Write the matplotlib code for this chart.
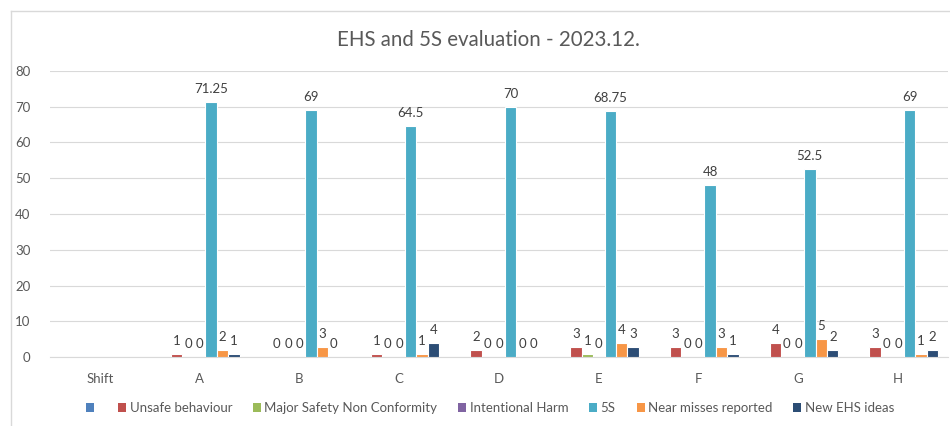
"""
EHS and 5S evaluation - 2023.12. : clustered bars per shift, Excel-like styling.
"""
import numpy as np
import matplotlib
matplotlib.use("Agg")
import matplotlib.pyplot as plt
from matplotlib.patches import Patch

nan = np.nan

categories = ["Shift", "A", "B", "C", "D", "E", "F", "G", "H"]
series_names = ["", "Unsafe behaviour", "Major Safety Non Conformity",
                "Intentional Harm", "5S", "Near misses reported", "New EHS ideas"]

blank = [nan, nan, nan, nan, nan, nan, nan, nan, nan]
unsafe = [nan, 1, 0, 1, 2, 3, 3, 4, 3]
major_nc = [nan, 0, 0, 0, 0, 1, 0, 0, 0]
harm = [nan, 0, 0, 0, 0, 0, 0, 0, 0]
five_s = [nan, 71.25, 69, 64.5, 70, 68.75, 48, 52.5, 69]
near_miss = [nan, 2, 3, 1, 0, 4, 3, 5, 1]
ehs_ideas = [nan, 1, 0, 4, 0, 3, 1, 2, 2]

all_series = [blank, unsafe, major_nc, harm, five_s, near_miss, ehs_ideas]
colors = ["#4F81BD", "#C0504D", "#9BBB59", "#8064A2", "#4BACC6", "#F79646", "#2C4D75"]

plt.rcParams['font.family'] = ['Lato', 'DejaVu Sans']

fig = plt.figure(figsize=(9.5, 4.26), dpi=100)
ax = fig.add_axes([50 / 950, 1 - 357.3 / 426, 898 / 950, (357.3 - 70.7) / 426])

# chart-area border (left + top only visible in crop)
fig.add_artist(plt.Line2D([10.5 / 950, 10.5 / 950], [0, 1 - 10.5 / 426],
                          transform=fig.transFigure, color="#D9D9D9", lw=1))
fig.add_artist(plt.Line2D([10.5 / 950, 1], [1 - 10.5 / 426, 1 - 10.5 / 426],
                          transform=fig.transFigure, color="#D9D9D9", lw=1))

x = np.arange(len(categories))
n = len(all_series)
width = 0.115

for i, (vals, col) in enumerate(zip(all_series, colors)):
    pos = x + (i - (n - 1) / 2) * width
    vals = np.array(vals, dtype=float)
    ax.bar(pos, vals, width, color=col, edgecolor="white", linewidth=0.8, zorder=3)
    for px, v in zip(pos, vals):
        if np.isnan(v):
            continue
        lbl = f"{v:g}"
        ax.annotate(lbl, (px, v), xytext=(0, 5), textcoords="offset points",
                    ha="center", va="bottom", fontsize=9.5, color="#404040")

ax.set_xlim(-0.5, len(categories) - 0.5)
ax.set_ylim(0, 80)
ax.set_yticks(np.arange(0, 81, 10))
ax.set_xticks(x)
ax.set_xticklabels(categories)
ax.grid(axis="y", color="#D9D9D9", linewidth=0.8, zorder=0)
ax.tick_params(axis="both", length=0, colors="#595959", labelsize=9.5)
ax.tick_params(axis="x", pad=11)
ax.tick_params(axis="y", pad=14)
for side in ["left", "right", "top"]:
    ax.spines[side].set_visible(False)
ax.spines["bottom"].set_color("#D9D9D9")

fig.text(488 / 950, 1 - 40 / 426, "EHS and 5S evaluation - 2023.12.",
         ha="center", va="center", fontsize=14.8, color="#595959")

handles = [Patch(facecolor=c, edgecolor="none") for c in colors]
fig.legend(handles, series_names, loc="center", ncol=7,
           bbox_to_anchor=(490 / 950, 1 - 408 / 426), frameon=False,
           fontsize=9.5, labelcolor="#595959", handlelength=0.6, handleheight=0.6,
           handletextpad=0.25, columnspacing=1.6)

fig.savefig("out.png", dpi=100)
